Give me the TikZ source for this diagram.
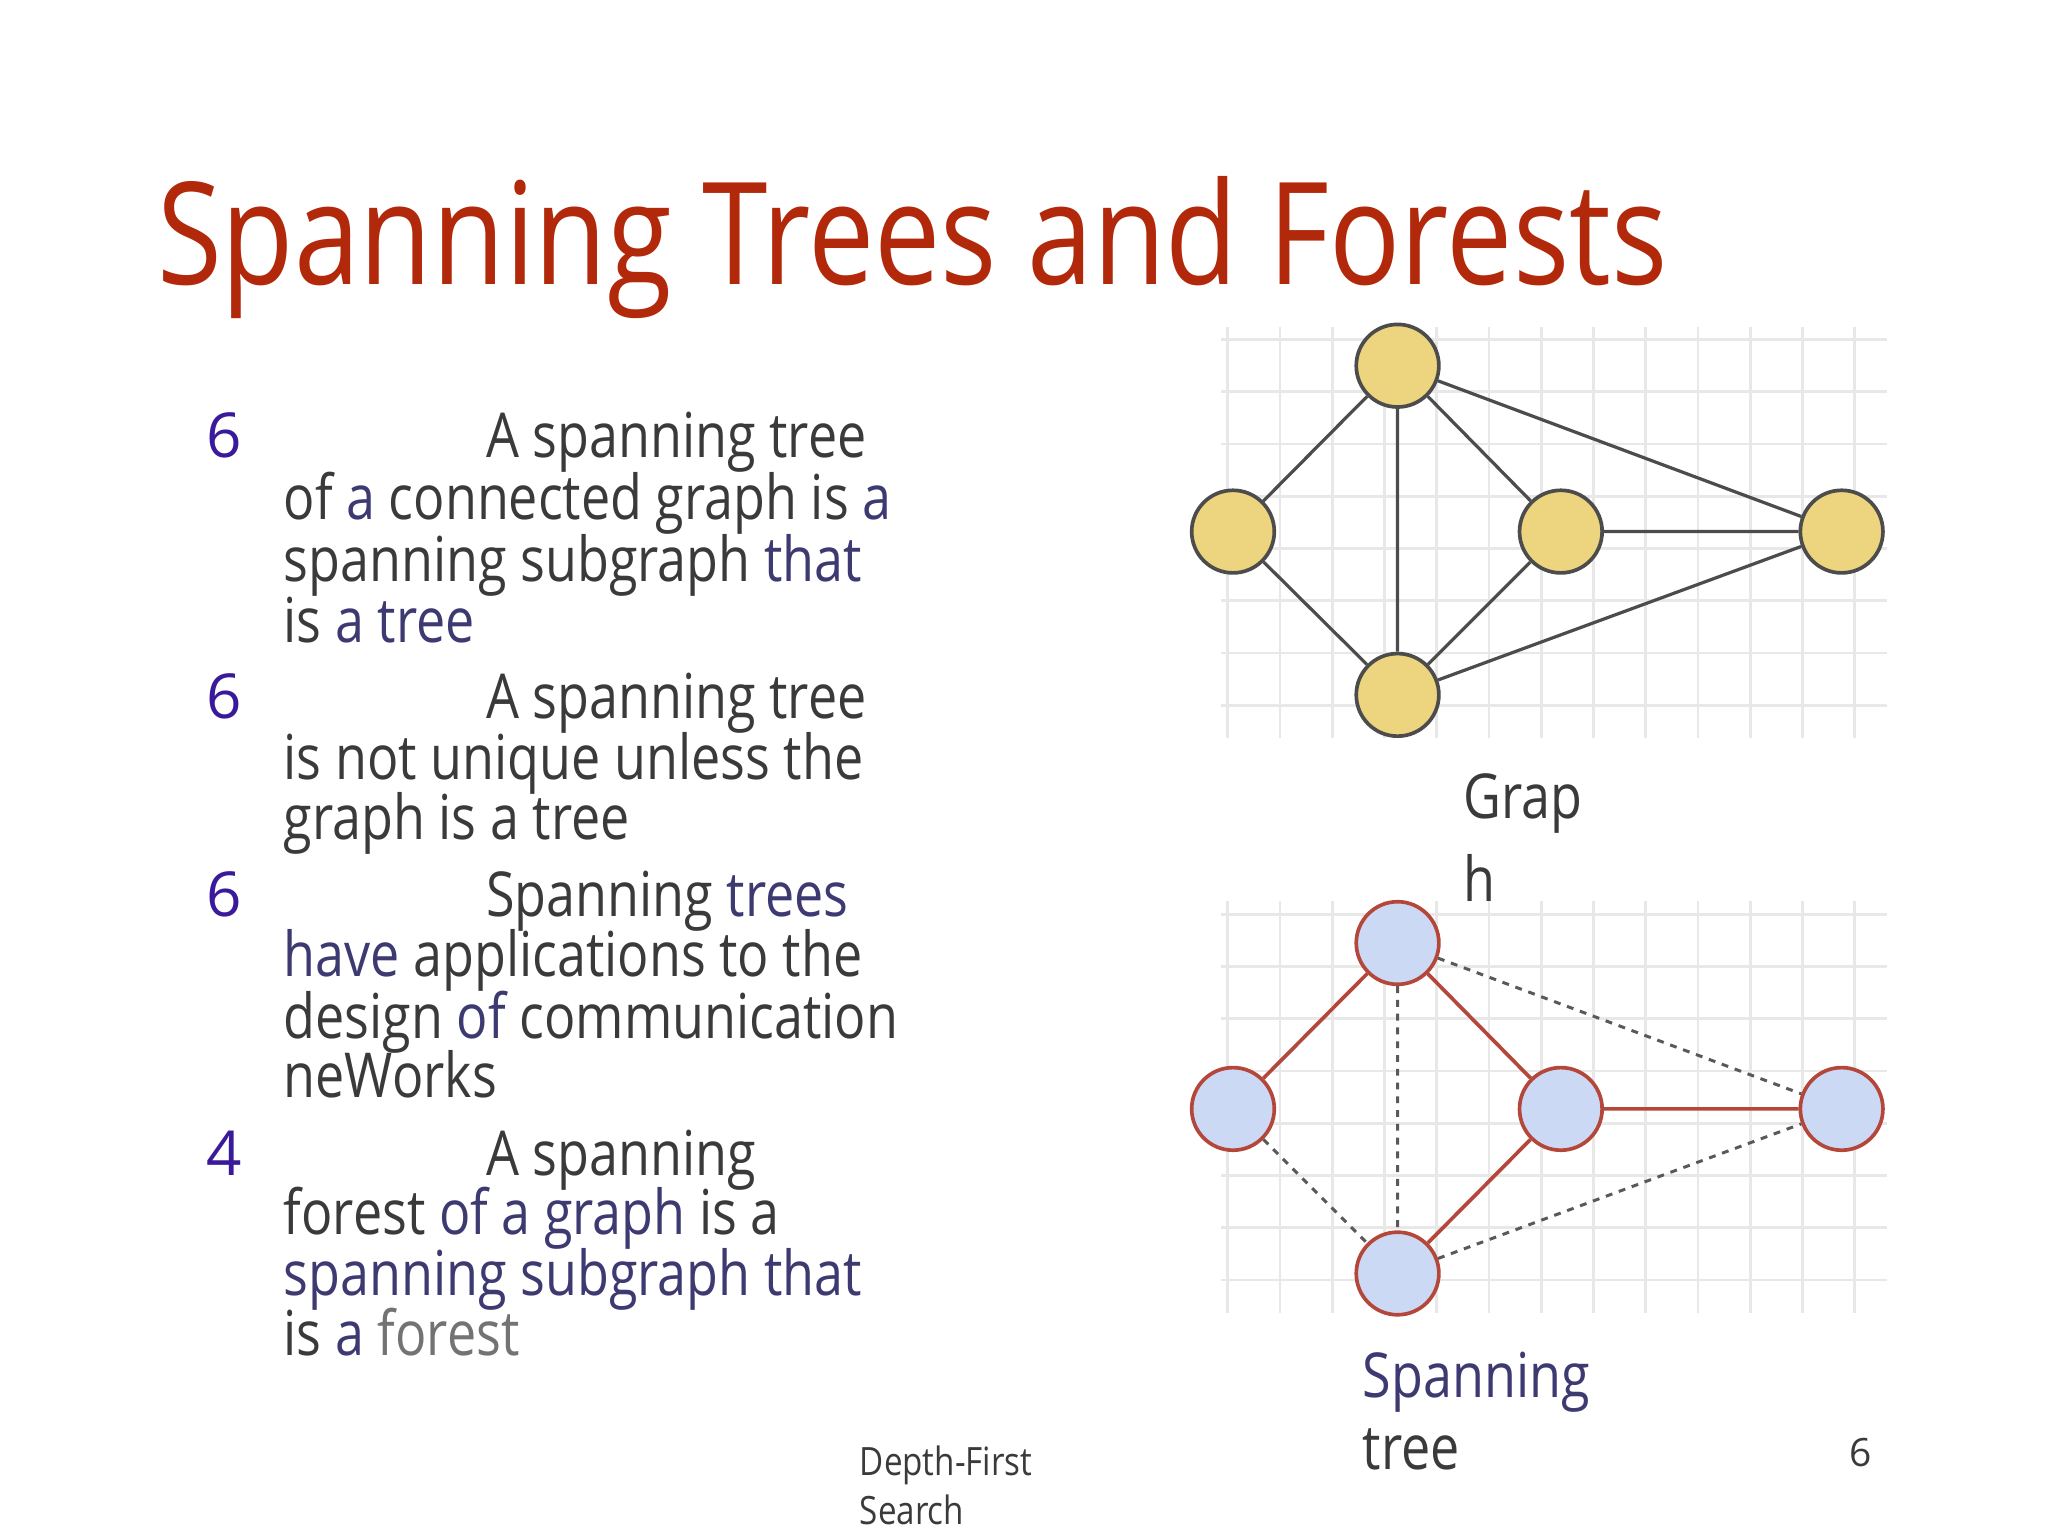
\documentclass[tikz,border=0pt]{standalone}
\usepackage{fontspec}
\setmainfont{Open Sans}
\definecolor{titlered}{HTML}{B2280A}
\definecolor{txt}{HTML}{3A3A3A}
\definecolor{pur}{HTML}{3D3A72}
\definecolor{num}{HTML}{3A1A9A}
\definecolor{yel}{HTML}{EDD47E}
\definecolor{blu}{HTML}{CCD9F5}
\definecolor{brn}{HTML}{B4473A}
\definecolor{gridc}{HTML}{E8E8E8}
\begin{document}
\begin{tikzpicture}[x=0.02cm,y=-0.02cm,
  body/.style={anchor=base west,inner sep=0,text=txt,font=\fontsize{27}{30}\selectfont,xscale=0.84,transform shape},
  numb/.style={anchor=base west,inner sep=0,text=num,font=\fontsize{27}{30}\selectfont},
  vy/.style={circle,draw=black!70,line width=1.6pt,fill=yel,minimum size=36pt,inner sep=0},
  vb/.style={circle,draw=brn,line width=1.6pt,fill=blu,minimum size=36pt,inner sep=0},
  ge/.style={draw=black!70,line width=1.4pt},
  te/.style={draw=brn,line width=1.6pt},
  de/.style={draw=black!65,line width=1.3pt,dashed},
  gl/.style={draw=gridc,line width=1.2pt}]
\useasboundingbox (0,0) rectangle (1568,1176);
\node[anchor=base west,inner sep=0,text=titlered,font=\fontsize{62}{70}\selectfont,xscale=0.83,transform shape] (title) at (120,218) {Spanning Trees and Forests};
% bullets
\node[numb] (n1) at (158,350) {6};
\node[body] (a1) at (372,350) {A spanning tree};
\node[body] (a2) at (217,398) {of \textcolor{pur}{a} connected graph is \textcolor{pur}{a}};
\node[body] (a3) at (217,445) {spanning subgraph \textcolor{pur}{that}};
\node[body] (a4) at (217,492) {is \textcolor{pur}{a tree}};
\node[numb] (n2) at (158,550) {6};
\node[body] (b1) at (372,550) {A spanning tree};
\node[body] (b2) at (217,597) {is not unique unless the};
\node[body] (b3) at (217,643) {graph is a tree};
\node[numb] (n3) at (158,702) {6};
\node[body] (c1) at (372,702) {Spanning \textcolor{pur}{trees}};
\node[body] (c2) at (217,748) {\textcolor{pur}{have} applications to the};
\node[body] (c3) at (217,795) {design \textcolor{pur}{of} communication};
\node[body] (c4) at (217,840) {neWorks};
\node[numb] (n4) at (158,900) {4};
\node[body] (d1) at (372,900) {A spanning};
\node[body] (d2) at (217,945) {forest \textcolor{pur}{of a graph} is a};
\node[body] (d3) at (217,992) {\textcolor{pur}{spanning subgraph that}};
\node[body] (d4) at (217,1038) {is \textcolor{pur}{a} \textcolor{black!55}{forest}};
% grids
\foreach \yo in {0,440}{
  \foreach \gx in {940,980,...,1440} \path[gl] (\gx,250+\yo) -- (\gx,565+\yo);
  \foreach \gy in {260,300,...,560} \path[gl] (935,\gy+\yo) -- (1445,\gy+\yo);
}
% graph
\node[vy] (t) at (1070,280) {};
\node[vy] (l) at (944,407) {};
\node[vy] (m) at (1195,407) {};
\node[vy] (r) at (1410,407) {};
\node[vy] (b) at (1070,532) {};
\path[ge] (t)--(l) (t)--(b) (t)--(m) (t)--(r) (l)--(b) (m)--(b) (m)--(r) (b)--(r);
% spanning tree
\node[vb] (t2) at (1070,722) {};
\node[vb] (l2) at (944,849) {};
\node[vb] (m2) at (1195,849) {};
\node[vb] (r2) at (1410,849) {};
\node[vb] (b2) at (1070,975) {};
\path[te] (t2)--(l2) (t2)--(m2) (m2)--(r2) (m2)--(b2);
\path[de] (t2)--(b2) (t2)--(r2) (l2)--(b2) (b2)--(r2);
% labels
\node[body] (g1) at (1120,627) {Grap};
\node[body] (g2) at (1120,690) {h};
\node[body,text=pur] (s1) at (1043,1070) {Spanning};
\node[body] (s2) at (1043,1125) {tree};
\node[anchor=base west,inner sep=0,text=txt,font=\fontsize{17}{20}\selectfont,xscale=0.85,transform shape] (f1) at (658,1130) {Depth-First};
\node[anchor=base west,inner sep=0,text=txt,font=\fontsize{17}{20}\selectfont,xscale=0.85,transform shape] (f2) at (658,1167) {Search};
\node[anchor=base west,inner sep=0,text=txt,font=\fontsize{17}{20}\selectfont] (pg) at (1416,1123) {6};
\end{tikzpicture}
\end{document}
